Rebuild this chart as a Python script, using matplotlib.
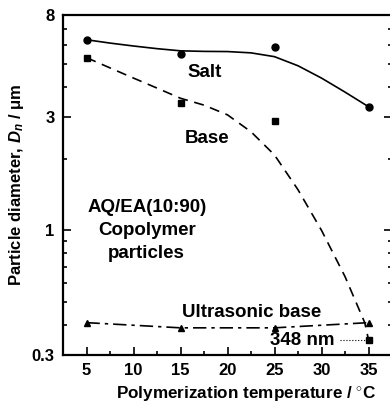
import numpy as np
import matplotlib
matplotlib.use("Agg")
import matplotlib.pyplot as plt
from matplotlib.ticker import FixedLocator, NullFormatter, MultipleLocator

plt.rcParams['font.family'] = ['Liberation Sans', 'DejaVu Sans']
plt.rcParams['font.weight'] = 'bold'
plt.rcParams['axes.labelweight'] = 'bold'
plt.rcParams['mathtext.fontset'] = 'custom'
plt.rcParams['mathtext.it'] = 'Liberation Sans:italic:bold'
plt.rcParams['mathtext.rm'] = 'Liberation Sans:bold'

# measured points
temp = [5, 15, 25, 35]
salt = [6.3, 5.47, 5.89, 3.30]
base = [5.3, 3.43, 2.88, 0.348]
ultra = [0.41, 0.39, 0.39, 0.41]

# fitted curves
salt_curve_x = [5, 7.5, 10, 12.5, 15, 17.5, 20, 22.5, 25, 27.5, 30, 32.5, 35]
salt_curve_y = [6.3, 6.1, 5.93, 5.78, 5.66, 5.63, 5.62, 5.55, 5.35, 4.9, 4.35, 3.8, 3.3]
base_curve_x = [5, 7.5, 10, 12.5, 15, 17.5, 20, 22.5, 25, 27.5, 30, 32.5, 34.6, 35]
base_curve_y = [5.3, 4.8, 4.35, 3.95, 3.58, 3.35, 3.05, 2.59, 2.07, 1.48, 1.0, 0.64, 0.41, 0.348]

fig = plt.figure(figsize=(3.9, 4.03), dpi=100)
ax = fig.add_axes([63/390, 48/403, 329/390, 340/403])

ax.plot(salt_curve_x, salt_curve_y, 'k-', lw=1.2)
ax.plot(base_curve_x, base_curve_y, 'k', lw=1.2, dashes=(6, 4))
ax.plot(temp, ultra, 'k', lw=1.2, dashes=(8, 3, 2, 3))

ax.plot(temp, salt, 'ko', ms=5)
ax.plot(temp, base, 'ks', ms=4.5)
ax.plot(temp, ultra, 'k^', ms=5)

# 348 nm pointer
ax.plot([32.0, 34.6], [0.348, 0.348], 'k:', lw=0.8)

lab = dict(ha='center', va='center', fontsize=13.5, fontweight='bold')
ax.text(17.6, 4.61, 'Salt', **lab)
ax.text(17.8, 2.43, 'Base', **lab)
ax.text(11.4, 1.0, 'AQ/EA(10:90)\nCopolymer\nparticles', multialignment='center',
        linespacing=1.45, **lab)
ax.text(22.55, 0.452, 'Ultrasonic base', **lab)
ax.text(27.9, 0.345, '348 nm', **lab)

ax.set_yscale('log')
ax.set_xlim(2.5, 37.5)
ax.set_ylim(0.3, 8)
ax.yaxis.set_major_locator(FixedLocator([0.3, 1, 3, 8]))
ax.set_yticklabels(['0.3', '1', '3', '8'], fontweight='bold')
ax.yaxis.set_minor_locator(FixedLocator([0.4, 0.5, 0.6, 0.7, 0.8, 0.9, 2, 4, 5, 6, 7]))
ax.yaxis.set_minor_formatter(NullFormatter())
ax.set_xticks([5, 10, 15, 20, 25, 30, 35])
ax.set_xticklabels(['5', '10', '15', '20', '25', '30', '35'], fontweight='bold')
ax.xaxis.set_minor_locator(MultipleLocator(2.5))

ax.tick_params(which='both', direction='in', right=True, top=False, labelsize=12, width=1.2)
ax.tick_params(which='major', length=6, pad=6)
ax.tick_params(which='minor', length=3)
for s in ax.spines.values():
    s.set_linewidth(1.6)

ax.set_xlabel(r'Polymerization temperature / $^{\circ}$C', fontsize=12.3,
              fontweight='bold')
ax.xaxis.set_label_coords(0.556, -0.085)
ax.set_ylabel(r'Particle diameter, $D_n$ / $\mathregular{\mu}$m', fontsize=12,
              fontweight='bold', labelpad=4)

fig.savefig('out.png', dpi=100)
